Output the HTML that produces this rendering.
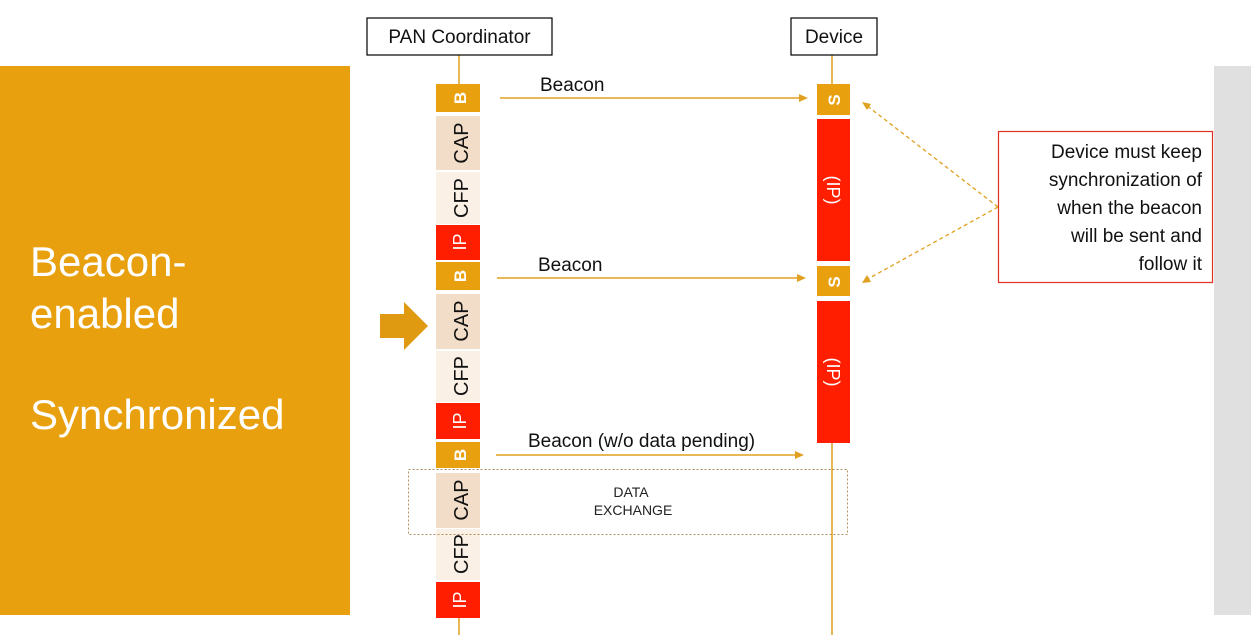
<!DOCTYPE html>
<html><head><meta charset="utf-8"><style>
html,body{margin:0;padding:0;background:#fff;}
svg{display:block;font-family:"Liberation Sans",sans-serif;}
</style></head><body>
<svg width="1251" height="635" viewBox="0 0 1251 635" xmlns="http://www.w3.org/2000/svg">
<rect x="0" y="66" width="350" height="549" fill="#E8A00F"/>
<text x="30" y="276" font-size="42" fill="#fff">Beacon-</text>
<text x="30" y="328" font-size="42" fill="#fff">enabled</text>
<text x="30" y="429" font-size="42" fill="#fff">Synchronized</text>
<rect x="1214" y="66" width="37" height="549" fill="#E0E0E0"/>
<polygon points="380,314 404,314 404,302 428,326 404,350 404,338 380,338" fill="#E09A12"/>
<line x1="459" y1="55" x2="459" y2="84" stroke="#E0A020" stroke-width="1.5"/>
<line x1="459" y1="618" x2="459" y2="635" stroke="#E0A020" stroke-width="1.5"/>
<line x1="832" y1="55" x2="832" y2="84" stroke="#E0A020" stroke-width="1.5"/>
<line x1="832" y1="443" x2="832" y2="635" stroke="#E0A020" stroke-width="1.5"/>
<rect x="367" y="18" width="185" height="37" fill="#fff" stroke="#000" stroke-width="1.2"/>
<text x="459.5" y="43" font-size="19" text-anchor="middle" fill="#111">PAN Coordinator</text>
<rect x="791" y="18" width="86" height="37" fill="#fff" stroke="#000" stroke-width="1.2"/>
<text x="834" y="43" font-size="19" text-anchor="middle" fill="#111">Device</text>
<g font-size="19">
<rect x="436" y="84" width="44" height="28" fill="#E8A00F"/>
<rect x="436" y="116" width="44" height="54" fill="#F2DEC8"/>
<rect x="436" y="172" width="44" height="52" fill="#FBF0E6"/>
<rect x="436" y="225" width="44" height="35" fill="#FF1E00"/>
<rect x="436" y="262" width="44" height="28" fill="#E8A00F"/>
<rect x="436" y="294" width="44" height="55" fill="#F2DEC8"/>
<rect x="436" y="351" width="44" height="51" fill="#FBF0E6"/>
<rect x="436" y="403" width="44" height="36" fill="#FF1E00"/>
<rect x="436" y="442" width="44" height="26" fill="#E8A00F"/>
<rect x="436" y="473" width="44" height="55" fill="#F2DEC8"/>
<rect x="436" y="529" width="44" height="51" fill="#FBF0E6"/>
<rect x="436" y="582" width="44" height="36" fill="#FF1E00"/>
<text transform="translate(466,98) rotate(-90)" text-anchor="middle" fill="#fff" font-weight="bold" font-size="17">B</text>
<text transform="translate(468,143) rotate(-90)" text-anchor="middle" fill="#111" font-size="20">CAP</text>
<text transform="translate(468,198) rotate(-90)" text-anchor="middle" fill="#111" font-size="20">CFP</text>
<text transform="translate(466,242) rotate(-90)" text-anchor="middle" fill="#fff" font-size="18">IP</text>
<text transform="translate(466,276) rotate(-90)" text-anchor="middle" fill="#fff" font-weight="bold" font-size="17">B</text>
<text transform="translate(468,321) rotate(-90)" text-anchor="middle" fill="#111" font-size="20">CAP</text>
<text transform="translate(468,376) rotate(-90)" text-anchor="middle" fill="#111" font-size="20">CFP</text>
<text transform="translate(466,421) rotate(-90)" text-anchor="middle" fill="#fff" font-size="18">IP</text>
<text transform="translate(466,455) rotate(-90)" text-anchor="middle" fill="#fff" font-weight="bold" font-size="17">B</text>
<text transform="translate(468,500) rotate(-90)" text-anchor="middle" fill="#111" font-size="20">CAP</text>
<text transform="translate(468,554) rotate(-90)" text-anchor="middle" fill="#111" font-size="20">CFP</text>
<text transform="translate(466,600) rotate(-90)" text-anchor="middle" fill="#fff" font-size="18">IP</text>
</g>
<rect x="817" y="84" width="33" height="31" fill="#E8A00F"/>
<rect x="817" y="119" width="33" height="142" fill="#FF1E00"/>
<rect x="817" y="266" width="33" height="30" fill="#E8A00F"/>
<rect x="817" y="301" width="33" height="142" fill="#FF1E00"/>
<text transform="translate(840,100) rotate(-90)" text-anchor="middle" fill="#fff" font-weight="bold" font-size="17">S</text>
<text transform="translate(840,282) rotate(-90)" text-anchor="middle" fill="#fff" font-weight="bold" font-size="17">S</text>
<text transform="translate(827,190) rotate(90)" text-anchor="middle" fill="#fff" font-size="18">(IP)</text>
<text transform="translate(827,372) rotate(90)" text-anchor="middle" fill="#fff" font-size="18">(IP)</text>
<g stroke="#E0A020" stroke-width="1.5" fill="#E0A020">
<line x1="500" y1="98" x2="800" y2="98"/><polygon points="808,98 799,94 799,102" stroke="none"/>
<line x1="497" y1="278" x2="798" y2="278"/><polygon points="806,278 797,274 797,282" stroke="none"/>
<line x1="496" y1="455" x2="796" y2="455"/><polygon points="804,455 795,451 795,459" stroke="none"/>
</g>
<text x="540" y="91" font-size="19" fill="#111">Beacon</text>
<text x="538" y="271" font-size="19" fill="#111">Beacon</text>
<text x="528" y="447" font-size="19" fill="#111">Beacon (w/o data pending)</text>
<rect x="408.5" y="469.5" width="439" height="65" fill="none" stroke="#B09060" stroke-width="1" stroke-dasharray="2,2"/>
<text x="631" y="497" font-size="14" text-anchor="middle" fill="#222">DATA</text>
<text x="633" y="515" font-size="14" text-anchor="middle" fill="#222">EXCHANGE</text>
<rect x="998.5" y="131.5" width="214" height="151" fill="#fff" stroke="#E03020" stroke-width="1.2"/>
<g font-size="19" fill="#111" text-anchor="end">
<text x="1202" y="158">Device must keep</text>
<text x="1202" y="186">synchronization of</text>
<text x="1202" y="214">when the beacon</text>
<text x="1202" y="242">will be sent and</text>
<text x="1202" y="270">follow it</text>
</g>
<g stroke="#E0A020" stroke-width="1.3" stroke-dasharray="4,3" fill="none">
<line x1="998" y1="207" x2="866" y2="105"/>
<line x1="998" y1="207" x2="866" y2="280"/>
</g>
<polygon points="862,102 871,104 867,110" fill="#E0A020"/>
<polygon points="862,283 867,275 871,282" fill="#E0A020"/>
</svg>
</body></html>
